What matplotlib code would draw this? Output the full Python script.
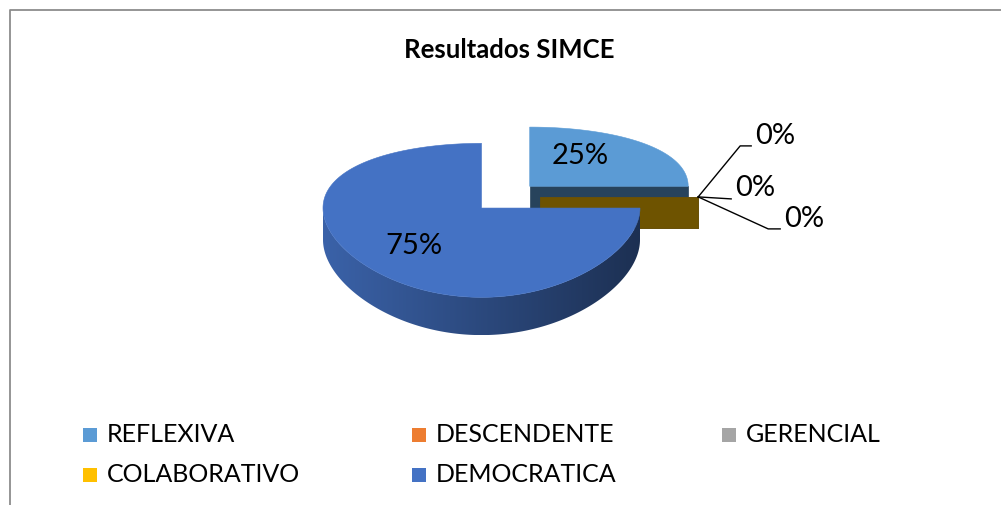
import numpy as np
import matplotlib
matplotlib.use('Agg')
import matplotlib.pyplot as plt
from matplotlib.patches import Polygon, Rectangle
from matplotlib.colors import to_rgb

plt.rcParams['font.family'] = ['Lato', 'DejaVu Sans']

title = 'Resultados SIMCE'
labels = ['REFLEXIVA', 'DESCENDENTE', 'GERENCIAL', 'COLABORATIVO', 'DEMOCRATICA']
values = [25, 0, 0, 0, 75]
colors = ['#5B9BD5', '#ED7D31', '#A5A5A5', '#FFC000', '#4472C4']

# fake 3d pie geometry (pixel space)
CX, CY = 505.6, 196.9
RX, A, B = 158.5, 71.5, 0.156
D0 = 31.0
EXPLODE = 0.215


def proj(X, Y, h=0.0):
    s = 1 + B * Y
    return CX + RX * X, CY - A * Y / s + h * D0 / s


def shade(c, f):
    r, g, b = to_rgb(c)
    return (r * f, g * f, b * f)


fig = plt.figure(figsize=(10.01, 5.05), dpi=100)
ax = fig.add_axes([0, 0, 1, 1])
ax.set_xlim(0, 1001)
ax.set_ylim(505, 0)
ax.axis('off')

total = sum(values)
fracs = np.array(values) / total
cum = np.concatenate([[0], np.cumsum(fracs)])
slices = []
for i in range(len(values)):
    t1 = 90 - 360 * cum[i]
    t2 = 90 - 360 * cum[i + 1]
    mid = np.radians((t1 + t2) / 2)
    ox, oy = EXPLODE * np.cos(mid), EXPLODE * np.sin(mid)
    slices.append((i, t1, t2, ox, oy))

# far slices first
slices.sort(key=lambda s: -s[4])

for i, t1, t2, ox, oy in slices:
    c = colors[i]
    # radial face at the end edge (faces the viewer here)
    n = np.radians(t2 - 90)
    if np.sin(n) < -1e-6:
        a = np.radians(t2)
        ex, ey = ox + np.cos(a), oy + np.sin(a)
        pts = [proj(ox, oy), proj(ex, ey), proj(ex, ey, 1), proj(ox, oy, 1)]
        ax.add_patch(Polygon(pts, closed=True, fc=shade(c, 0.43), ec=shade(c, 0.43), lw=0.5))
    if t1 == t2:
        continue
    th = np.radians(np.linspace(t1, t2, 400))
    # curved outer wall, front half only, shaded left->right
    front = th[np.sin(th) < 0]
    if len(front) > 1:
        topr = [proj(ox + np.cos(a), oy + np.sin(a)) for a in front]
        botr = [proj(ox + np.cos(a), oy + np.sin(a), 1) for a in front[::-1]]
        wall = Polygon(topr + botr, closed=True, fc='none', ec='none')
        ax.add_patch(wall)
        xs = np.array([p[0] for p in topr + botr])
        ys = np.array([p[1] for p in topr + botr])
        gx = np.linspace(xs.min(), xs.max(), 300)
        cosv = np.clip((gx - (CX + RX * ox)) / RX, -1, 1)
        f = 0.86 - 0.44 * (1 + cosv) / 2
        img = np.array([[shade(c, v) for v in f]])
        im = ax.imshow(img, extent=(xs.min(), xs.max(), ys.max(), ys.min()),
                       aspect='auto', interpolation='bilinear', zorder=wall.get_zorder())
        im.set_clip_path(wall)
    # top surface
    pts = [proj(ox, oy)] + [proj(ox + np.cos(a), oy + np.sin(a)) for a in th]
    ax.add_patch(Polygon(pts, closed=True, fc=c, ec=c, lw=0.4, zorder=1.5))

ax.set_xlim(0, 1001)
ax.set_ylim(505, 0)

# data labels
inner_r = {0: 0.45, 4: 0.6}
inner_dy = {0: -10, 4: 4}
zero_off = [(77, -61), (57, -9), (106, 22)]
zero_elbow = [((42, -51), (53, -51)), ((33, 2), (33, 2)), ((70, 32), (82, 32))]
zk = 0
for i, t1, t2, ox, oy in sorted(slices):
    txt = f'{fracs[i]:.0%}'
    if values[i] > 0:
        m = np.radians((t1 + t2) / 2)
        r = inner_r[i]
        x, y = proj(ox + r * np.cos(m), oy + r * np.sin(m))
        ax.text(x, y + inner_dy[i], txt, fontsize=21, ha='center', va='center', zorder=5)
    else:
        a = np.radians(t2)
        x0, y0 = proj(ox + np.cos(a), oy + np.sin(a))
        (e1x, e1y), (e2x, e2y) = zero_elbow[zk]
        ax.plot([x0, x0 + e1x, x0 + e2x], [y0, y0 + e1y, y0 + e2y], color='black', lw=1, zorder=5)
        dx, dy = zero_off[zk]
        ax.text(x0 + dx, y0 + dy, txt, fontsize=21, ha='center', va='center', zorder=5)
        zk += 1

ax.text(509.5, 50, title, fontsize=18.5, fontweight='bold', ha='center', va='center')

# legend, row-major like excel
col_x = [83, 412, 722]
row_y = [435, 475]
for k, lab in enumerate(labels):
    x = col_x[k % 3]
    y = row_y[k // 3]
    ax.add_patch(Rectangle((x, y - 7), 14, 14, fc=colors[k], ec='none'))
    ax.text(x + 24, y, lab, fontsize=18, ha='left', va='center')

# chart frame
ax.plot([9.5, 9.5, 1001], [505, 9.5, 9.5], color='#8C8C8C', lw=1.3)

fig.savefig('out.png', dpi=100)
